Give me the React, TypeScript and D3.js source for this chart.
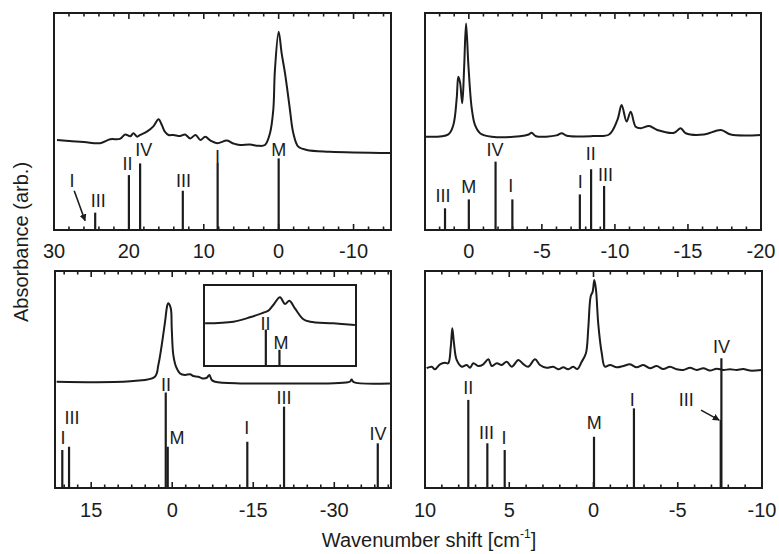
import React from 'react';
import * as d3 from 'd3';

type Pt = [number, number];
interface Stick { x: number; h: number }
interface Label { text: string; x: number; y: number }
interface Arrow { x1: number; y1: number; x2: number; y2: number }

// ---------- Panel A (top-left) ----------
const aTicks = [30, 20, 10, 0, -10];
const aSpectrum: Pt[] = [
  [29.6, 0.415], [26, 0.405], [23.85, 0.4], [22.5, 0.418], [21.2, 0.42], [20.5, 0.44], [19.8, 0.432],
  [19.4, 0.446], [18.9, 0.43], [18.5, 0.438], [17.6, 0.453], [16.7, 0.479], [16.05, 0.51],
  [15.6, 0.484], [15.2, 0.453], [14.7, 0.438], [14.05, 0.438], [13.15, 0.433], [12.5, 0.44],
  [11.8, 0.422], [11.1, 0.438], [10.45, 0.415], [9.8, 0.43], [9.1, 0.412], [8.2, 0.4],
  [6.9, 0.412], [6.0, 0.398], [5.17, 0.392], [3.83, 0.394], [2.72, 0.388], [1.83, 0.392],
  [1.16, 0.446], [0.72, 0.553], [0.5, 0.737], [0.0, 0.914], [-0.4, 0.814], [-0.84, 0.724],
  [-1.28, 0.614], [-1.51, 0.553], [-1.95, 0.447], [-2.62, 0.384], [-3.74, 0.369],
  [-6.85, 0.361], [-15, 0.355],
];
const aSticks: Stick[] = [
  { x: 24.5, h: 0.08 }, { x: 20.0, h: 0.253 }, { x: 18.5, h: 0.307 }, { x: 12.8, h: 0.181 },
  { x: 8.15, h: 0.309 }, { x: 0, h: 0.33 },
];
const aLabels: Label[] = [
  { text: 'I', x: 27.6, y: 0.198 }, { text: 'III', x: 24.1, y: 0.106 }, { text: 'II', x: 20.2, y: 0.276 },
  { text: 'IV', x: 18.0, y: 0.341 }, { text: 'III', x: 12.7, y: 0.198 }, { text: 'I', x: 8.15, y: 0.309 },
  { text: 'M', x: 0, y: 0.341 },
];
const aArrows: Arrow[] = [{ x1: 27.3, y1: 0.181, x2: 25.85, y2: 0.043 }];

// ---------- Panel B (top-right) ----------
const bTicks = [0, -5, -10, -15, -20];
const bSpectrum: Pt[] = [
  [3.0, 0.43], [1.4, 0.441], [1.06, 0.484], [0.83, 0.607], [0.72, 0.706], [0.6, 0.68], [0.45, 0.584],
  [0.32, 0.75], [0.19, 0.952], [0.03, 0.76], [-0.2, 0.56], [-0.42, 0.484], [-0.77, 0.446],
  [-1.57, 0.43], [-3.5, 0.432], [-4.1, 0.44], [-4.3, 0.448], [-4.6, 0.432], [-6.0, 0.436],
  [-6.36, 0.446], [-6.7, 0.434], [-8.5, 0.433], [-9.6, 0.44], [-10.17, 0.507], [-10.46, 0.576],
  [-10.8, 0.5], [-11.08, 0.545], [-11.42, 0.476], [-11.77, 0.469], [-12.34, 0.479],
  [-12.9, 0.461], [-14.06, 0.448], [-14.5, 0.469], [-14.85, 0.446], [-16.1, 0.44],
  [-17.25, 0.461], [-17.93, 0.44], [-20, 0.438],
];
const bSticks: Stick[] = [
  { x: 1.63, h: 0.1 }, { x: 0, h: 0.141 }, { x: -1.83, h: 0.315 }, { x: -2.98, h: 0.141 },
  { x: -7.6, h: 0.164 }, { x: -8.37, h: 0.28 }, { x: -9.26, h: 0.203 },
];
const bLabels: Label[] = [
  { text: 'III', x: 1.77, y: 0.131 }, { text: 'M', x: 0, y: 0.17 }, { text: 'IV', x: -1.79, y: 0.339 },
  { text: 'I', x: -2.87, y: 0.177 }, { text: 'I', x: -7.62, y: 0.194 }, { text: 'II', x: -8.34, y: 0.323 },
  { text: 'III', x: -9.36, y: 0.224 },
];

// ---------- Panel C (bottom-left) ----------
const cTicks = [15, 0, -15, -30];
const cSpectrum: Pt[] = [
  [21.4, 0.49], [7.2, 0.493], [3.2, 0.513], [2.57, 0.567], [1.94, 0.659], [1.33, 0.766],
  [0.9, 0.843], [0.72, 0.851], [0.27, 0.828], [0.09, 0.736], [-0.2, 0.613], [-0.7, 0.559],
  [-1.45, 0.528], [-2.37, 0.521], [-3.3, 0.524], [-3.9, 0.516], [-4.84, 0.513], [-5.47, 0.506],
  [-6.4, 0.508], [-6.87, 0.521], [-7.32, 0.498], [-7.93, 0.49], [-12.56, 0.482], [-19.4, 0.482],
  [-32.9, 0.49], [-33.2, 0.5], [-33.6, 0.488], [-40.3, 0.482],
];
const cSticks: Stick[] = [
  { x: 20.35, h: 0.175 }, { x: 19.1, h: 0.19 }, { x: 1.2, h: 0.44 }, { x: 0.83, h: 0.19 },
  { x: -13.9, h: 0.213 }, { x: -20.7, h: 0.375 }, { x: -38.05, h: 0.206 },
];
const cLabels: Label[] = [
  { text: 'I', x: 20.2, y: 0.205 }, { text: 'III', x: 18.55, y: 0.297 }, { text: 'II', x: 1.14, y: 0.445 },
  { text: 'M', x: -0.89, y: 0.205 }, { text: 'I', x: -13.8, y: 0.251 }, { text: 'III', x: -20.7, y: 0.389 },
  { text: 'IV', x: -38.1, y: 0.221 },
];

// ---------- Inset of panel C ----------
const insetSpectrum: Pt[] = [
  [2.85, 0.527], [2.08, 0.547], [1.63, 0.601], [1.27, 0.658], [1.13, 0.683], [0.997, 0.753],
  [0.815, 0.848], [0.68, 0.765], [0.56, 0.806], [0.41, 0.712], [0.18, 0.577], [0.0, 0.547],
  [-0.63, 0.527], [-1.22, 0.506],
];
const insetSticks: Stick[] = [{ x: 1.2, h: 0.45 }, { x: 0.83, h: 0.2 }];
const insetLabels: Label[] = [{ text: 'II', x: 1.21, y: 0.444 }, { text: 'M', x: 0.79, y: 0.216 }];

// ---------- Panel D (bottom-right) ----------
const dTicks = [10, 5, 0, -5, -10];
const dSpectrum: Pt[] = [
  [9.9, 0.552], [9.6, 0.559], [9.41, 0.547], [9.11, 0.57], [8.81, 0.577], [8.62, 0.575],
  [8.47, 0.651], [8.38, 0.736], [8.28, 0.667], [8.12, 0.59], [7.82, 0.559], [7.53, 0.567],
  [7.33, 0.554], [7.13, 0.575], [6.84, 0.562], [6.54, 0.57], [6.24, 0.593], [6.04, 0.562],
  [5.74, 0.575], [5.45, 0.567], [5.15, 0.582], [4.85, 0.559], [4.46, 0.59], [4.17, 0.571],
  [3.87, 0.559], [3.47, 0.593], [3.18, 0.567], [2.78, 0.554], [2.39, 0.559], [2.09, 0.547],
  [1.79, 0.556], [1.5, 0.547], [1.2, 0.559], [0.96, 0.548], [0.7, 0.582], [0.45, 0.621],
  [0.31, 0.736], [0.17, 0.882], [0.05, 0.905], [-0.05, 0.959], [-0.15, 0.912], [-0.28, 0.759],
  [-0.49, 0.621], [-0.68, 0.559], [-0.98, 0.567], [-1.38, 0.556], [-1.77, 0.562], [-2.17, 0.57],
  [-2.56, 0.556], [-2.96, 0.567], [-3.35, 0.552], [-3.75, 0.562], [-4.14, 0.548], [-4.54, 0.559],
  [-4.94, 0.547], [-5.33, 0.544], [-5.73, 0.554], [-6.12, 0.544], [-6.52, 0.552], [-6.91, 0.541],
  [-7.31, 0.55], [-7.7, 0.544], [-8.1, 0.547], [-8.5, 0.544], [-8.89, 0.548], [-9.29, 0.541],
  [-9.98, 0.544],
];
const dSticks: Stick[] = [
  { x: 7.43, h: 0.406 }, { x: 6.3, h: 0.206 }, { x: 5.27, h: 0.175 }, { x: -0.03, h: 0.236 },
  { x: -2.4, h: 0.367 }, { x: -7.59, h: 0.598 }, { x: -7.55, h: 0.313 },
];
const dLabels: Label[] = [
  { text: 'II', x: 7.44, y: 0.435 }, { text: 'III', x: 6.35, y: 0.228 }, { text: 'I', x: 5.31, y: 0.205 },
  { text: 'M', x: -0.05, y: 0.274 }, { text: 'I', x: -2.3, y: 0.376 }, { text: 'IV', x: -7.6, y: 0.62 },
  { text: 'III', x: -5.5, y: 0.376 },
];
const dArrows: Arrow[] = [{ x1: -6.38, y1: 0.359, x2: -7.46, y2: 0.313 }];

const INK = '#1c1c1c';
const FONT = '"Liberation Sans", Arial, Helvetica, sans-serif';

interface Box { left: number; right: number; top: number; bottom: number }

function tickRange(domain: [number, number], step: number): number[] {
  const lo = Math.min(domain[0], domain[1]);
  const hi = Math.max(domain[0], domain[1]);
  const out: number[] = [];
  for (let i = Math.ceil(lo / step - 1e-9); i * step <= hi + 1e-9; i++) out.push(+(i * step).toFixed(6));
  return out;
}

function Panel(props: {
  box: Box; xDomain: [number, number]; majors: number[]; minorStep: number;
  spectrum: Pt[]; sticks: Stick[]; labels: Label[]; arrows?: Arrow[]; labelOffset: number;
}) {
  const { box, xDomain, majors, minorStep, spectrum, sticks, labels, arrows = [], labelOffset } = props;
  const x = d3.scaleLinear().domain(xDomain).range([box.left, box.right]);
  const y = d3.scaleLinear().domain([0, 1]).range([box.bottom, box.top]);
  const line = d3.line<Pt>().x(d => x(d[0])).y(d => y(d[1])).curve(d3.curveCatmullRom.alpha(0.5));
  const minors = tickRange(xDomain, minorStep).filter(v => !majors.includes(v));
  return (
    <g>
      {minors.map((v, i) => (
        <g key={'mi' + i}>
          <line x1={x(v)} x2={x(v)} y1={box.bottom} y2={box.bottom - 3.5} stroke={INK} strokeWidth={1.6} />
          <line x1={x(v)} x2={x(v)} y1={box.top} y2={box.top + 3.5} stroke={INK} strokeWidth={1.6} />
        </g>
      ))}
      {majors.map((v, i) => (
        <g key={'ma' + i}>
          <line x1={x(v)} x2={x(v)} y1={box.bottom} y2={box.bottom - 6} stroke={INK} strokeWidth={1.6} />
          <line x1={x(v)} x2={x(v)} y1={box.top} y2={box.top + 6} stroke={INK} strokeWidth={1.6} />
          <text x={x(v)} y={box.bottom + labelOffset} textAnchor="middle" fontSize={20} fill={INK} fontFamily={FONT}>
            {String(v)}
          </text>
        </g>
      ))}
      <path d={line(spectrum) || ''} fill="none" stroke={INK} strokeWidth={2} strokeLinejoin="round" />
      {sticks.map((s, i) => (
        <line key={'s' + i} x1={x(s.x)} x2={x(s.x)} y1={y(0)} y2={y(s.h)} stroke={INK} strokeWidth={2.2} />
      ))}
      {labels.map((l, i) => (
        <text key={'l' + i} x={x(l.x)} y={y(l.y)} textAnchor="middle" fontSize={18} fill={INK} fontFamily={FONT}>
          {l.text}
        </text>
      ))}
      {arrows.map((a, i) => (
        <line key={'a' + i} x1={x(a.x1)} y1={y(a.y1)} x2={x(a.x2)} y2={y(a.y2)} stroke={INK} strokeWidth={1.6}
          markerEnd="url(#arrowhead)" />
      ))}
      <rect x={box.left} y={box.top} width={box.right - box.left} height={box.bottom - box.top}
        fill="none" stroke={INK} strokeWidth={2} />
    </g>
  );
}

function Inset(props: { box: Box; xDomain: [number, number] }) {
  const { box, xDomain } = props;
  const x = d3.scaleLinear().domain(xDomain).range([box.left, box.right]);
  const y = d3.scaleLinear().domain([0, 1]).range([box.bottom, box.top]);
  const line = d3.line<Pt>().x(d => x(d[0])).y(d => y(d[1])).curve(d3.curveCatmullRom.alpha(0.5));
  return (
    <g>
      <rect x={box.left} y={box.top} width={box.right - box.left} height={box.bottom - box.top}
        fill="#fff" stroke={INK} strokeWidth={2} />
      <path d={line(insetSpectrum) || ''} fill="none" stroke={INK} strokeWidth={2} />
      {insetSticks.map((s, i) => (
        <line key={i} x1={x(s.x)} x2={x(s.x)} y1={y(0)} y2={y(s.h)} stroke={INK} strokeWidth={2.2} />
      ))}
      {insetLabels.map((l, i) => (
        <text key={i} x={x(l.x)} y={y(l.y)} textAnchor="middle" fontSize={18} fill={INK} fontFamily={FONT}>{l.text}</text>
      ))}
    </g>
  );
}

export default function App() {
  return (
    <svg width={779} height={554} viewBox="0 0 779 554"
      style={{ position: 'absolute', left: 0, top: 0, background: '#fff' }}>
      <defs>
        <marker id="arrowhead" viewBox="0 0 10 10" refX="9" refY="5" markerWidth="7" markerHeight="7"
          orient="auto" markerUnits="userSpaceOnUse">
          <path d="M0,0 L10,5 L0,10 z" fill={INK} />
        </marker>
      </defs>
      <rect x={0} y={0} width={779} height={554} fill="#fff" />
      <Panel box={{ left: 54, right: 391, top: 13, bottom: 230 }} xDomain={[30, -15]} majors={aTicks} minorStep={2}
        spectrum={aSpectrum} sticks={aSticks} labels={aLabels} arrows={aArrows} labelOffset={28} />
      <Panel box={{ left: 425, right: 761, top: 13, bottom: 230 }} xDomain={[3, -20]} majors={bTicks} minorStep={1}
        spectrum={bSpectrum} sticks={bSticks} labels={bLabels} labelOffset={28} />
      <Panel box={{ left: 55, right: 391, top: 271, bottom: 488 }} xDomain={[21.7, -40.5]} majors={cTicks} minorStep={2.5}
        spectrum={cSpectrum} sticks={cSticks} labels={cLabels} labelOffset={29} />
      <Inset box={{ left: 204, right: 356, top: 285, bottom: 366 }} xDomain={[2.88, -1.25]} />
      <Panel box={{ left: 425, right: 762, top: 271, bottom: 488 }} xDomain={[10, -10]} majors={dTicks} minorStep={1}
        spectrum={dSpectrum} sticks={dSticks} labels={dLabels} arrows={dArrows} labelOffset={29} />
      <text transform="translate(28,242) rotate(-90)" textAnchor="middle" fontSize={20} fill={INK} fontFamily={FONT}>
        Absorbance (arb.)
      </text>
      <text x={429} y={547} textAnchor="middle" fontSize={20} fill={INK} fontFamily={FONT}>
        Wavenumber shift [cm<tspan fontSize={12} dy={-9}>-1</tspan><tspan dy={9}>]</tspan>
      </text>
    </svg>
  );
}
